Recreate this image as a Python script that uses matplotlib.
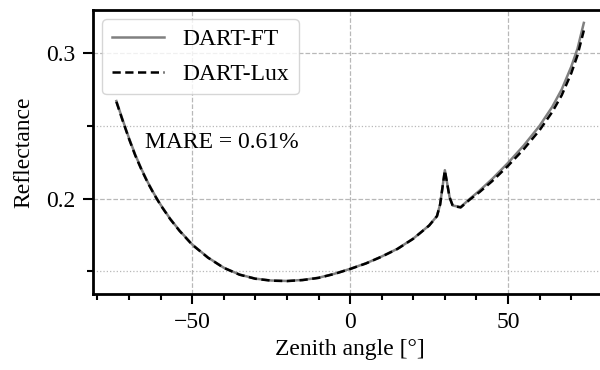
import numpy as np
import matplotlib
matplotlib.use('Agg')
import matplotlib.pyplot as plt
from matplotlib.ticker import MultipleLocator

# zenith angles (deg) and reflectance of both models
zenith = [-74, -72, -70, -68, -66, -64, -62, -60, -57, -54, -50, -45, -40, -35,
          -30, -25, -20, -15, -10, -5, 0, 5, 10, 15, 20, 25, 27.5, 28.5, 30,
          31.5, 32.5, 35, 38, 41, 45, 50, 55, 60, 64, 67, 70, 72, 74]
dart_ft = [0.2670, 0.2540, 0.2415, 0.2300, 0.2200, 0.2110, 0.2030, 0.1958,
           0.1862, 0.1780, 0.1685, 0.1595, 0.1525, 0.1478, 0.1450, 0.1437,
           0.1434, 0.1441, 0.1456, 0.1483, 0.1517, 0.1555, 0.1602, 0.1655,
           0.1725, 0.1815, 0.1880, 0.1960, 0.2195, 0.2010, 0.1952, 0.1942,
           0.2000, 0.2055, 0.2135, 0.2245, 0.2365, 0.2500, 0.2630, 0.2750,
           0.2905, 0.3030, 0.3207]
dart_lux = [0.2665, 0.2535, 0.2410, 0.2295, 0.2196, 0.2106, 0.2027, 0.1955,
            0.1860, 0.1778, 0.1683, 0.1594, 0.1524, 0.1477, 0.1449, 0.1436,
            0.1433, 0.1440, 0.1455, 0.1482, 0.1516, 0.1554, 0.1601, 0.1654,
            0.1724, 0.1814, 0.1879, 0.1959, 0.2193, 0.2008, 0.1950, 0.1939,
            0.1995, 0.2045, 0.2120, 0.2225, 0.2340, 0.2470, 0.2595, 0.2710,
            0.2860, 0.2985, 0.3155]
mare_text = 'MARE = 0.61%'

plt.rcParams['font.family'] = ['Liberation Serif', 'DejaVu Serif']
plt.rcParams['font.size'] = 17

fig = plt.figure(figsize=(6, 3.7), dpi=100)
ax = fig.add_axes([0.155, 0.2054, 0.857, 0.7676])

ax.plot(zenith, dart_ft, color='grey', linewidth=1.8, label='DART-FT')
ax.plot(zenith, dart_lux, color='black', linewidth=1.8, linestyle=(0, (3.3, 1.8)),
        label='DART-Lux')

ax.xaxis.set_major_locator(MultipleLocator(50))
ax.xaxis.set_minor_locator(MultipleLocator(10))
ax.yaxis.set_major_locator(MultipleLocator(0.1))
ax.yaxis.set_minor_locator(MultipleLocator(0.05))

ax.grid(True, which='major', linestyle='--', color='#b8b8b8', linewidth=0.9)
ax.grid(True, which='minor', axis='y', linestyle=':', color='#b8b8b8', linewidth=0.9)
ax.set_axisbelow(True)

for s in ax.spines.values():
    s.set_linewidth(2)
ax.tick_params(which='major', length=7, width=1.5, pad=6)
ax.tick_params(which='minor', length=4, width=1.5)

ax.text(-65, 0.2349, mare_text, va='baseline', ha='left')
ax.set_xlabel('Zenith angle [°]', labelpad=4)
ax.set_ylabel('Reflectance', labelpad=8)
ax.legend(loc='upper left', handlelength=2.2, borderaxespad=0.4, labelspacing=0.55)

fig.savefig('out.png', dpi=100)
